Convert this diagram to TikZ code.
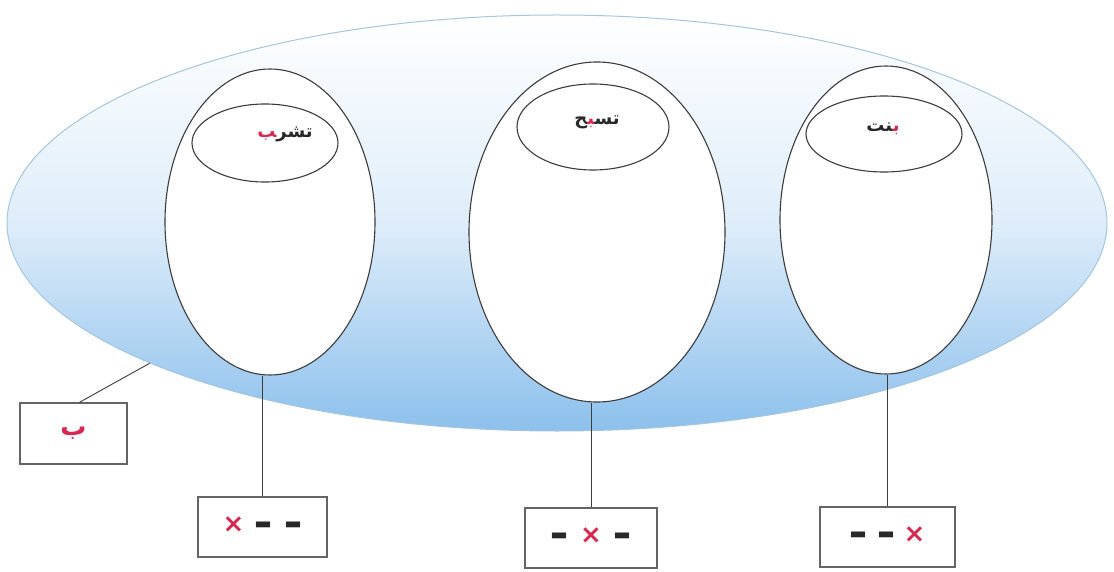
\documentclass[tikz,border=0pt]{standalone}
\usepackage{fontspec}
\newfontfamily\arabicfont[Script=Arabic]{DejaVu Sans}
\newfontfamily\dejavu{DejaVu Sans}
\TeXXeTstate=1
\usetikzlibrary{shapes.geometric}
\definecolor{bluebot}{RGB}{140,192,236}
\definecolor{bigborder}{RGB}{165,198,222}
\definecolor{xred}{RGB}{214,40,80}
\definecolor{linegray}{RGB}{60,60,60}
\definecolor{boxgray}{RGB}{100,100,100}
\definecolor{txt}{RGB}{40,40,40}
\newcommand{\zj}{\char"200D }
\newcommand{\dbar}{\raisebox{-5pt}{\scalebox{1.8}[2.3]{–}}}
\newcommand{\xmark}{{\color{xred}\fontsize{26}{28}\selectfont ×}}
\begin{document}
\begin{tikzpicture}[x=1pt,y=-1pt,
  oval/.style={ellipse, draw=linegray, line width=1.1pt, fill=white, inner sep=0pt},
  lbox/.style={rectangle, draw=boxgray, line width=1.4pt, fill=white, inner sep=0pt},
  conn/.style={draw=linegray, line width=0.9pt},
  word/.style={font=\arabicfont\bfseries\fontsize{18}{20}\selectfont, text=txt},
  marks/.style={font=\dejavu\bfseries\fontsize{20}{22}\selectfont, text=txt}]
\useasboundingbox (0,0) rectangle (1114,572);
% big shaded ellipse
\node[ellipse, inner sep=0pt, minimum width=1100pt, minimum height=416pt,
      draw=bigborder, line width=1pt, top color=white, bottom color=bluebot,
      middle color=bluebot!28] (big) at (557,223) {};
% tall ovals
\node[oval, minimum width=210pt, minimum height=306pt] (o1) at (270,222) {};
\node[oval, minimum width=256pt, minimum height=340pt] (o2) at (597,232) {};
\node[oval, minimum width=212pt, minimum height=308pt] (o3) at (886,220) {};
% inner ellipses
\node[oval, minimum width=146pt, minimum height=78pt] (i1) at (265,143) {};
\node[oval, minimum width=152pt, minimum height=86pt] (i2) at (593,127) {};
\node[oval, minimum width=156pt, minimum height=76pt] (i3) at (884,134) {};
% words (runs written in visual left-to-right order)
\node[word] (w1) at (285,134) {{\color{xred}\zj ب}تشر\zj};
\node[word] (w2) at (597,122) {\zj ح{\color{xred}\zj ب\zj}تس\zj};
\node[word] (w3) at (883,129) {\zj نت{\color{xred}ب\zj}};
% boxes
\node[lbox, minimum width=107pt, minimum height=61pt, text=xred,
      font=\arabicfont\bfseries\fontsize{26}{28}\selectfont] (b0) at (73.5,433.5) {ب};
\node[lbox, marks, minimum width=129pt, minimum height=60pt] (b1) at (262.5,527)
  {\xmark\hspace{10pt}\dbar\hspace{12pt}\dbar};
\node[lbox, marks, minimum width=132pt, minimum height=60pt] (b2) at (591,538)
  {\dbar\hspace{12pt}\xmark\hspace{12pt}\dbar};
\node[lbox, marks, minimum width=135pt, minimum height=60pt] (b3) at (887.5,537)
  {\dbar\hspace{10pt}\dbar\hspace{8pt}\xmark};
% connectors
\draw[conn] (big.199) -- ([xshift=6pt]b0.north);
\draw[conn] (b1.north) -- (b1.north |- o1.south);
\draw[conn] (b2.north) -- (b2.north |- o2.south);
\draw[conn] (b3.north) -- (b3.north |- o3.south);
\end{tikzpicture}
\end{document}
